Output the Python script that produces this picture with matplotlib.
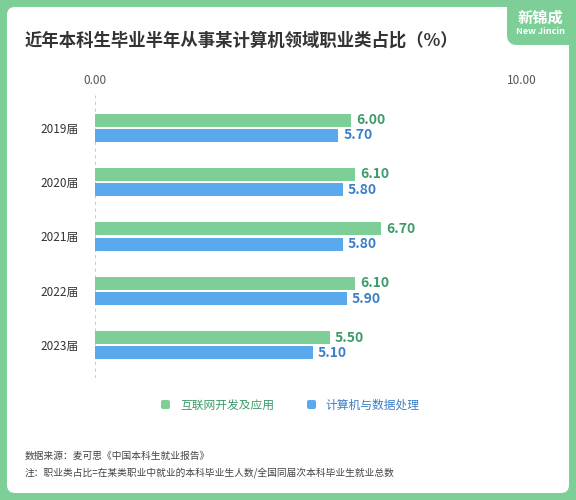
import matplotlib
matplotlib.use("Agg")
import matplotlib.pyplot as plt
from matplotlib.patches import FancyBboxPatch, Rectangle
import numpy as np

plt.rcParams['font.family'] = ['Noto Sans CJK SC', 'DejaVu Sans']

years = ["2019届", "2020届", "2021届", "2022届", "2023届"]
internet = [6.00, 6.10, 6.70, 6.10, 5.50]
computer = [5.70, 5.80, 5.80, 5.90, 5.10]
series_names = ["互联网开发及应用", "计算机与数据处理"]
green = "#7dcf97"
blue = "#5aa9ec"
dgreen = "#3d9a6a"
dblue = "#3a7fc8"

fig = plt.figure(figsize=(5.76, 5.0), dpi=100)
fig.patch.set_facecolor(green)
bg = fig.add_axes([0, 0, 1, 1])
bg.set_xlim(0, 576); bg.set_ylim(500, 0); bg.axis('off')
bg.add_patch(FancyBboxPatch((7, 7), 562, 486, boxstyle="round,pad=0,rounding_size=8",
                            fc="white", ec="none"))
bg.add_patch(FancyBboxPatch((507, -10), 80, 55, boxstyle="round,pad=0,rounding_size=10",
                            fc=green, ec="none"))
bg.text(540, 18, "新锦成", ha='center', va='center', color='white', fontsize=11, fontweight='bold')
bg.text(540, 31, "New Jincin", ha='center', va='center', color='white', fontsize=6.5, fontweight='bold')
bg.text(25, 41, "近年本科生毕业半年从事某计算机领域职业类占比（%）", fontsize=12.5,
        fontweight='bold', color='#333333', va='center')
bg.text(25, 456, "数据来源：麦可思《中国本科生就业报告》", fontsize=7, color='#444444', va='center')
bg.text(25, 473, "注：职业类占比=在某类职业中就业的本科毕业生人数/全国同届次本科毕业生就业总数",
        fontsize=7, color='#444444', va='center')
# legend
bg.add_patch(FancyBboxPatch((161, 400), 9, 9, boxstyle="round,pad=0,rounding_size=2", fc=green, ec='none'))
bg.text(180, 405, series_names[0], fontsize=8.5, color=dgreen, va='center')
bg.add_patch(FancyBboxPatch((307, 400), 9, 9, boxstyle="round,pad=0,rounding_size=2", fc=blue, ec='none'))
bg.text(325, 405, series_names[1], fontsize=8.5, color=dblue, va='center')

ax = fig.add_axes([95/576, 1-378/500, 427/576, 283/500])
ax.set_xlim(0, 10)
y = np.arange(len(years))
h = 0.24
ax.barh(y - 0.14, internet, height=h, color=green)
ax.barh(y + 0.14, computer, height=h, color=blue)
for i in range(len(years)):
    ax.text(internet[i] + 0.12, y[i] - 0.14, f"{internet[i]:.2f}", va='center', fontsize=10,
            fontweight='bold', color=dgreen)
    ax.text(computer[i] + 0.12, y[i] + 0.14, f"{computer[i]:.2f}", va='center', fontsize=10,
            fontweight='bold', color=dblue)
ax.set_ylim(4.6, -0.6)
ax.set_yticks(y)
ax.set_yticklabels(years, fontsize=8.5, color='#333333')
ax.set_xticks([0, 10])
ax.set_xticklabels(["0.00", "10.00"], fontsize=8.5, color='#555555')
ax.xaxis.tick_top()
ax.tick_params(length=0, pad=6)
ax.tick_params(axis='y', pad=12)
for s in ax.spines.values():
    s.set_visible(False)
for xv in [0, 10]:
    ax.axvline(xv, color='#cccccc', lw=0.8, ls=(0, (3, 3)), zorder=0)
ax.set_facecolor('none')
fig.savefig("out.png", dpi=100)
